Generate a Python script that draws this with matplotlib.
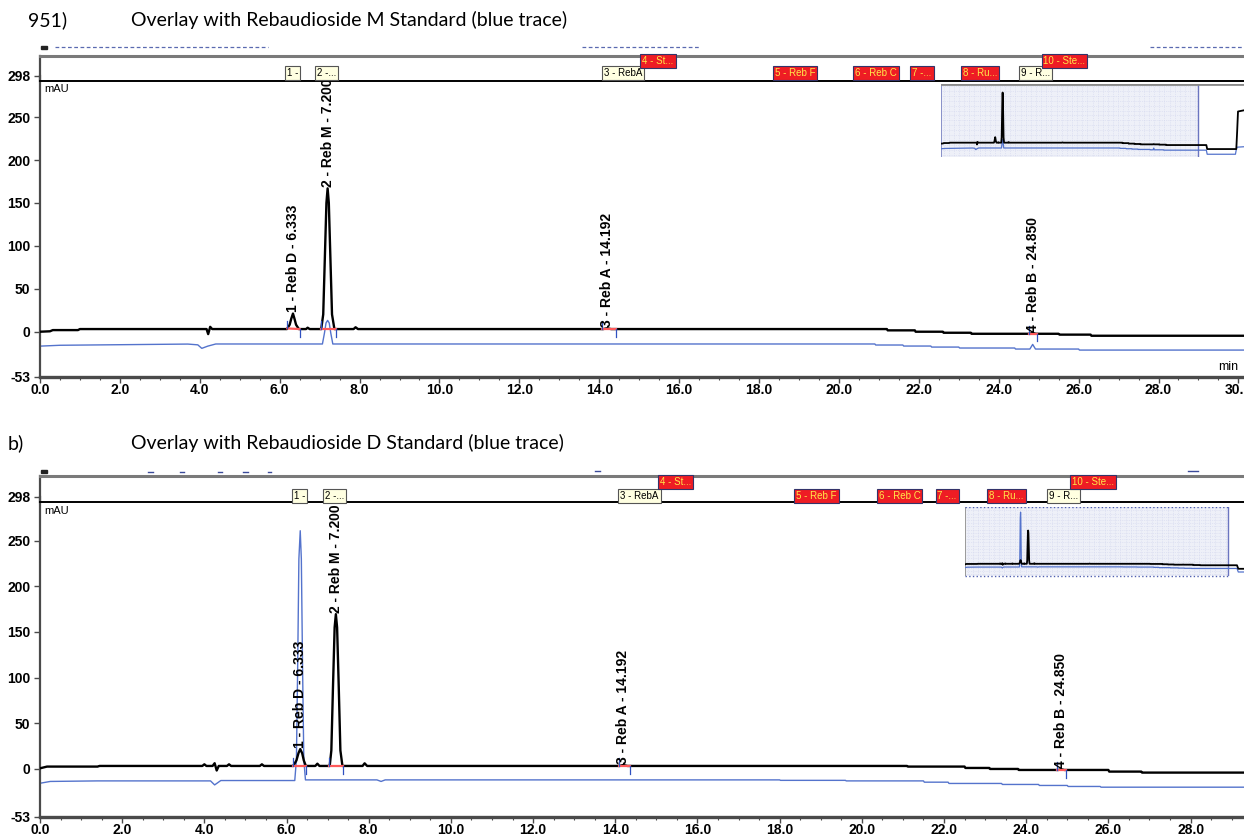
import numpy as np
import matplotlib
matplotlib.use("Agg")
import matplotlib.pyplot as plt
from matplotlib.patches import Rectangle
from matplotlib.lines import Line2D
from matplotlib.ticker import MultipleLocator

plt.rcParams['font.family'] = ['Liberation Sans', 'DejaVu Sans']

# ---------------- data ----------------
title_a_num = "951)"
title_a = "Overlay with Rebaudioside M Standard (blue trace)"
title_b_num = "b)"
title_b = "Overlay with Rebaudioside D Standard (blue trace)"

y_ticks = [298, 250, 200, 150, 100, 50, 0, -53]

peak_names = ["1 - Reb D - 6.333", "2 - Reb M - 7.200", "3 - Reb A - 14.192", "4 - Reb B - 24.850"]
peak_rt = [6.333, 7.200, 14.192, 24.850]

id_labels = ["1 -", "2 -...", "3 - RebA", "4 - St...", "5 - Reb F", "6 - Reb C",
             "7 -...", "8 - Ru...", "9 - R...", "10 - Ste..."]
id_times = [6.18, 6.94, 14.12, 15.08, 18.40, 20.41, 21.84, 23.10, 24.56, 25.12]
id_found = [True, True, True, False, False, False, False, False, True, False]
id_row = [0, 0, 0, 1, 0, 0, 0, 0, 0, 1]

# panel a: sample (black) and Reb M standard (blue)
a_t_black = [0.0, 0.25, 0.32, 0.95, 1.0, 4.17, 4.21, 4.26, 4.31, 6.18, 6.25, 6.29, 6.333,
             6.37, 6.41, 6.48, 6.66, 6.7, 6.75, 7.04, 7.09, 7.13, 7.17, 7.2, 7.23, 7.27,
             7.31, 7.37, 7.85, 7.9, 7.96, 14.1, 14.19, 14.3, 21.2, 21.22, 21.9, 21.92,
             22.6, 22.62, 23.3, 23.32, 24.78, 24.85, 24.93, 25.5, 25.52, 26.3, 26.32, 30.2]
a_y_black = [-0.2, 0.3, 1.7, 1.7, 2.9, 2.9, -3.0, 5.5, 2.9, 2.9, 8.0, 15.0, 21.0,
             15.0, 8.0, 2.9, 2.9, 4.5, 2.9, 2.9, 20.0, 85.0, 150.0, 167.0, 150.0, 85.0,
             20.0, 2.9, 2.9, 5.0, 2.9, 2.9, 3.8, 2.9, 2.9, 1.4, 1.4, -0.2,
             -0.2, -1.4, -1.4, -2.6, -2.6, -1.6, -2.6, -2.6, -3.6, -3.6, -4.9, -4.9]
a_t_blue = [0.0, 0.5, 3.7, 3.95, 4.05, 4.2, 4.4, 7.07, 7.12, 7.16, 7.2, 7.24, 7.28, 7.33,
            20.9, 20.92, 21.6, 21.62, 22.3, 22.32, 23.0, 23.02, 24.4, 24.42, 24.78, 24.85,
            24.92, 26.0, 26.02, 30.2]
a_y_blue = [-17.0, -16.0, -14.6, -15.5, -19.6, -17.0, -14.5, -14.5, -2.0, 10.0, 13.0, 10.0,
            -2.0, -14.5, -14.5, -15.7, -15.7, -16.9, -16.9, -18.1, -18.1, -19.2, -19.2,
            -20.4, -20.4, -15.0, -20.4, -20.4, -21.6, -21.6]
a_int_start = [6.19, 7.04, 14.08, 24.76]
a_int_end = [6.50, 7.40, 14.42, 24.96]
# overview (inset) continuation past 30 min
a_ext_t_black = [30.6, 31.0, 31.1, 34.5, 34.6, 34.7, 35.6]
a_ext_y_black = [-4.9, -4.9, -18.0, -18.0, 40.0, 105.0, 110.0]
a_ext_t_blue = [30.6, 31.0, 31.1, 34.4, 34.55, 35.6]
a_ext_y_blue = [-21.6, -21.6, -35.0, -35.0, -12.0, -10.0]

# panel b: sample (black) and Reb D standard (blue)
b_t_black = [0.0, 0.17, 1.4, 1.45, 3.95, 4.0, 4.05, 4.2, 4.25, 4.3, 4.35, 4.55, 4.6, 4.65,
             5.35, 5.4, 5.45, 6.16, 6.24, 6.29, 6.333, 6.38, 6.42, 6.47, 6.7, 6.75, 6.8,
             7.05, 7.09, 7.13, 7.17, 7.2, 7.23, 7.27, 7.31, 7.36, 7.85, 7.9, 7.96, 14.1,
             14.19, 14.3, 21.1, 21.12, 22.5, 22.52, 23.1, 23.12, 23.8, 23.82, 24.78, 24.85,
             24.93, 26.0, 26.02, 26.8, 26.82, 29.5]
b_y_black = [0.4, 2.3, 2.3, 3.0, 3.0, 4.8, 3.0, 3.0, 6.0, -2.0, 3.0, 3.0, 4.8, 3.0,
             3.0, 4.8, 3.0, 3.0, 9.0, 17.0, 21.5, 17.0, 9.0, 3.0, 3.0, 5.5, 3.0,
             3.0, 20.0, 90.0, 155.0, 169.5, 155.0, 90.0, 20.0, 3.0, 3.0, 5.9, 3.0, 3.0,
             4.0, 3.0, 3.0, 2.3, 2.3, 0.8, 0.8, -0.3, -0.3, -1.4, -1.4, -0.6,
             -1.4, -1.4, -3.2, -3.2, -4.3, -4.3]
b_t_blue = [0.0, 0.25, 1.4, 4.15, 4.25, 4.4, 6.2, 6.24, 6.27, 6.3, 6.333, 6.36, 6.39, 6.42,
            6.46, 8.2, 8.3, 8.4, 18.0, 18.02, 19.6, 19.62, 21.5, 21.52, 22.1, 22.12, 23.4,
            23.42, 24.3, 24.32, 25.0, 25.02, 25.8, 25.82, 29.5]
b_y_blue = [-16.0, -14.0, -13.4, -13.4, -17.8, -13.0, -13.0, 10.0, 110.0, 230.0, 261.0,
            230.0, 110.0, 10.0, -12.3, -12.3, -14.0, -12.3, -12.3, -12.8, -12.8, -13.4,
            -13.4, -14.8, -14.8, -16.2, -16.2, -17.3, -17.3, -18.4, -18.4, -19.5, -19.5,
            -20.3, -20.3]
b_int_start = [6.16, 7.04, 14.08, 24.76]
b_int_end = [6.47, 7.38, 14.36, 24.96]
b_ext_t_black = [29.6, 31.0, 31.15, 32.2]
b_ext_y_black = [-4.3, -4.3, -22.0, -22.0]
b_ext_t_blue = [29.6, 31.0, 31.15, 32.2]
b_ext_y_blue = [-20.3, -20.3, -38.0, -38.0]

# ---------------- drawing ----------------
W, H = 1244, 836
fig = plt.figure(figsize=(W / 100, H / 100), dpi=100)


def rect(x0, y0, x1, y1):
    return [x0 / W, 1 - y1 / H, (x1 - x0) / W, (y1 - y0) / H]


BLACK = '#000000'
BLUE = '#5473CC'
AXIS = '#4a4a4a'
TITLE_FONT = ['Lato', 'DejaVu Sans']


def main_axes(r, xmax, xlab_max, tb, yb, tl, yl, ints, inte):
    ax = fig.add_axes(r)
    for s in ['top', 'right']:
        ax.spines[s].set_visible(False)
    ax.spines['left'].set(color=AXIS, lw=1.6)
    ax.spines['bottom'].set(color=AXIS, lw=2.4)
    xt = np.arange(0, xlab_max + 0.01, 2)
    ax.set_xticks(xt)
    ax.set_xticklabels([f'{v:.1f}' for v in xt])
    ax.xaxis.set_minor_locator(MultipleLocator(0.5))
    ax.set_yticks(y_ticks)
    ax.set_yticklabels([str(v) for v in y_ticks])
    ax.set_xlim(0, xmax)
    ax.set_ylim(-53, 298)
    ax.tick_params(axis='both', which='major', direction='out', length=4, width=1,
                   color=AXIS, labelsize=10)
    ax.tick_params(axis='x', which='major', pad=0)
    ax.tick_params(axis='y', which='major', pad=3)
    ax.tick_params(axis='x', which='minor', length=2.5, width=0.8, color=AXIS)
    for lab in ax.get_xticklabels() + ax.get_yticklabels():
        lab.set_fontweight('bold')
    ax.plot(tl, yl, color=BLUE, lw=1.0, zorder=2)
    ax.plot(tb, yb, color=BLACK, lw=1.7, zorder=3)
    for s, e in zip(ints, inte):
        ys = np.interp(s, tb, yb)
        ye = np.interp(e, tb, yb)
        ax.plot([s, e], [ys, ye], color='#FF5A5A', lw=1.6, zorder=4)
        ax.plot([s, s], [ys, ys + 9], color='#2F50C0', lw=0.9, zorder=4)
        ax.plot([e, e], [ye, ye - 9], color='#2F50C0', lw=0.9, zorder=4)
    for name, rt in zip(peak_names, peak_rt):
        y = np.interp(rt, tb, yb) + 1.5
        ax.text(rt, y, name, rotation=90, ha='center', va='bottom', fontsize=10,
                fontweight='bold', zorder=5)
    return ax


def band_axes(r, xmax, row_y):
    bd = fig.add_axes(r, facecolor='none')
    bd.set_xlim(0, xmax)
    bd.set_ylim(0, 1)
    bd.set_xticks([])
    bd.set_yticks([])
    bd.spines['right'].set_visible(False)
    bd.spines['top'].set(color='#7a7a7a', lw=2.2)
    bd.spines['bottom'].set(color='black', lw=1.4)
    bd.spines['left'].set(color=AXIS, lw=1.6)
    for lab, tt, found, row in zip(id_labels, id_times, id_found, id_row):
        bd.text(tt, row_y[row], lab, fontsize=7, ha='left', va='center',
                color='black' if found else '#FFE94A',
                bbox=dict(boxstyle='square,pad=0.2',
                          fc='#FFFFE1' if found else '#EE1C24',
                          ec='#555555' if found else '#33336a', lw=0.8),
                clip_on=False, zorder=6)
    return bd


def inset_axes(r, xmax, ylim, tb, yb, tl, yl, left_color, top_style):
    ia = fig.add_axes(r)
    ia.set_xlim(0, xmax)
    ia.set_ylim(*ylim)
    ia.set_xticks([])
    ia.set_yticks([])
    for s in ia.spines.values():
        s.set_visible(False)
    ia.add_patch(Rectangle((0, ylim[0]), 30, ylim[1] - ylim[0], fc='#EEF0F8', ec='none', zorder=0))
    ia.vlines(np.arange(0.3, 30, 0.6), ylim[0], ylim[1], colors='#D3D7EE', lw=0.5,
              linestyles=':', zorder=0.5)
    ia.hlines(np.arange(ylim[0] + 8, ylim[1], 16), 0, 30, colors='#D3D7EE', lw=0.5,
              linestyles=':', zorder=0.5)
    ia.axvline(0, color=left_color, lw=1.4, zorder=1)
    ia.axvline(30, color='#6A74C0', lw=1.0, zorder=1)
    if top_style == 'gray':
        ia.axhline(ylim[1], color='#8a8a8a', lw=2.0, zorder=1)
    else:
        ia.plot([0, 30], [ylim[1], ylim[1]], color='#5060B0', lw=1.0, ls=':', zorder=1)
        ia.plot([0, 30], [ylim[0], ylim[0]], color='#5060B0', lw=1.0, ls=':', zorder=1,
                clip_on=False)
    ia.plot(tl, yl, color=BLUE, lw=0.9, zorder=2)
    ia.plot(tb, yb, color=BLACK, lw=1.3, zorder=3)
    return ia


# titles
fig.text(28 / W, 1 - 20 / H, title_a_num, fontsize=14, family=TITLE_FONT, va='center')
fig.text(131 / W, 1 - 20 / H, title_a, fontsize=14, family=TITLE_FONT, va='center')
fig.text(8 / W, 1 - 443 / H, title_b_num, fontsize=14, family=TITLE_FONT, va='center')
fig.text(131 / W, 1 - 443 / H, title_b, fontsize=14, family=TITLE_FONT, va='center')

# header remnants
for (x0, x1, y) in [(55, 268, 47), (582, 700, 47), (1150, 1244, 47)]:
    fig.add_artist(Line2D([x0 / W, x1 / W], [1 - y / H] * 2, color='#5a6ab0', lw=0.9,
                          linestyle=(0, (3, 2))))
for (x0, y) in [(41, 46), (41, 470)]:
    fig.add_artist(Rectangle((x0 / W, 1 - (y + 3) / H), 6 / W, 3 / H, color='#222222',
                             transform=fig.transFigure))
for (x0, x1, y) in [(148, 153, 472), (180, 184, 472), (218, 222, 472), (243, 248, 472),
                    (268, 271, 472), (595, 600, 471), (1188, 1198, 471)]:
    fig.add_artist(Line2D([x0 / W, x1 / W], [1 - y / H] * 2, color='#3a4a9a', lw=1.0))

# panel a
XMAX_A = 30.14
ax_a = main_axes(rect(40, 76, 1244, 377), XMAX_A, 30, a_t_black, a_y_black, a_t_blue,
                 a_y_blue, a_int_start, a_int_end)
band_axes(rect(40, 56, 1244, 80.7), XMAX_A, [0.31, 0.8])
inset_axes(rect(941, 84, 1244, 157), 35.4, (-44, 195),
           a_t_black + a_ext_t_black, a_y_black + a_ext_y_black,
           a_t_blue + a_ext_t_blue, a_y_blue + a_ext_y_blue, '#8890C8', 'gray')
fig.text(44 / W, 1 - 89 / H, 'mAU', fontsize=8, ha='left', va='center')
fig.text(1238 / W, 1 - 367 / H, 'min', fontsize=9, ha='right', va='center')

# panel b
XMAX_B = 29.3
ax_b = main_axes(rect(40, 497, 1244, 817), XMAX_B, 28, b_t_black, b_y_black, b_t_blue,
                 b_y_blue, b_int_start, b_int_end)
band_axes(rect(40, 476, 1244, 502), XMAX_B, [0.24, 0.77])
inset_axes(rect(965, 507, 1244, 576), 31.8, (-58, 287),
           b_t_black + b_ext_t_black, b_y_black + b_ext_y_black,
           b_t_blue + b_ext_t_blue, b_y_blue + b_ext_y_blue, '#9a9a9a', 'dotted')
fig.text(44 / W, 1 - 511 / H, 'mAU', fontsize=8, ha='left', va='center')

fig.savefig('out.png', dpi=100, facecolor='white')
